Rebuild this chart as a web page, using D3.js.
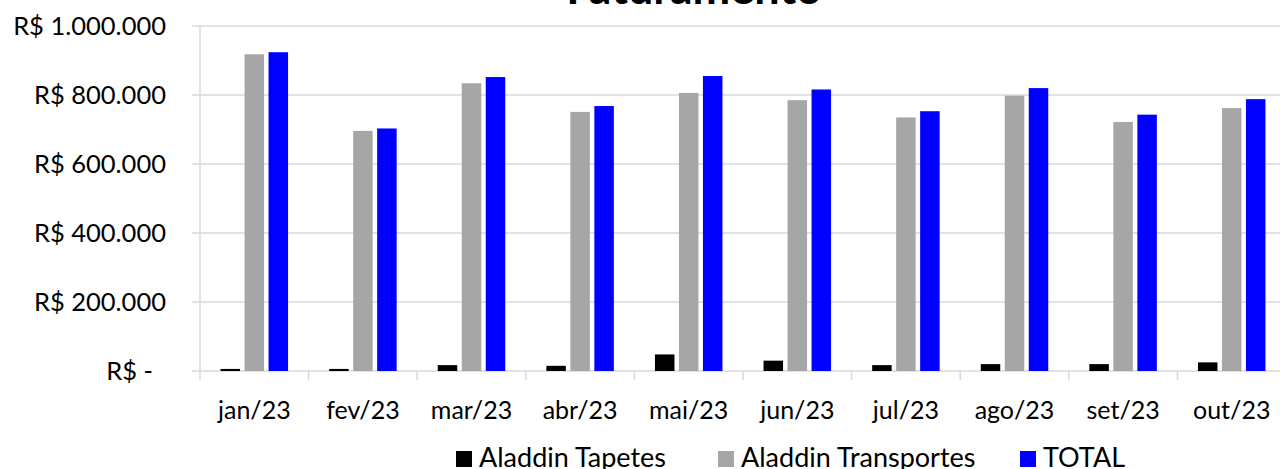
<!DOCTYPE html>
<html>
<head>
<meta charset="utf-8">
<script src="https://cdn.jsdelivr.net/npm/d3@7"></script>
<style>
  body { margin: 0; background: #fff; }
  svg { display: block; font-family: Lato, "Open Sans", sans-serif; }
</style>
</head>
<body>
<div id="chart"></div>
<script>
// months and revenue per company (R$)
const months = ["jan/23", "fev/23", "mar/23", "abr/23", "mai/23", "jun/23", "jul/23", "ago/23", "set/23", "out/23"];
const tapetes = [6000, 6000, 17000, 15000, 48000, 30000, 17000, 20000, 20000, 25000];
const transportes = [918000, 696000, 834000, 751000, 806000, 785000, 735000, 798000, 722000, 762000];
const total = [924000, 703000, 852000, 768000, 855000, 816000, 753000, 820000, 743000, 788000];
const yTicks = [0, 200000, 400000, 600000, 800000, 1000000];

const seriesNames = ["Aladdin Tapetes", "Aladdin Transportes", "TOTAL"];
const seriesColors = ["#000000", "#a6a6a6", "#0000ff"];
const seriesValues = [tapetes, transportes, total];

const W = 1280, H = 469;
const margin = { top: 26, right: -6, bottom: 98, left: 200 };

const svg = d3.select("#chart").append("svg")
    .attr("width", W)
    .attr("height", H);

const x = d3.scaleBand()
    .domain(months)
    .range([margin.left, W - margin.right]);

const y = d3.scaleLinear()
    .domain([0, 1000000])
    .range([H - margin.bottom, margin.top]);

// inner band for the three bars
const barW = 19.5, barGap = 4.5;
const x1 = d3.scaleBand()
    .domain(seriesNames)
    .range([0, 3 * barW + 2 * barGap])
    .paddingInner(barGap / (barW + barGap));

// gridlines + y tick marks
svg.append("g")
    .selectAll("line")
    .data(yTicks)
    .join("line")
    .attr("x1", margin.left - 8)
    .attr("x2", W)
    .attr("y1", d => y(d))
    .attr("y2", d => y(d))
    .attr("stroke", "#d9d9d9")
    .attr("stroke-width", 1.5);

// vertical axis line
svg.append("line")
    .attr("x1", margin.left).attr("x2", margin.left)
    .attr("y1", y(1000000)).attr("y2", y(0))
    .attr("stroke", "#d9d9d9").attr("stroke-width", 1.5);

// x tick marks at category boundaries
svg.append("g")
    .selectAll("line")
    .data(months)
    .join("line")
    .attr("x1", d => x(d))
    .attr("x2", d => x(d))
    .attr("y1", y(0))
    .attr("y2", y(0) + 9)
    .attr("stroke", "#d9d9d9")
    .attr("stroke-width", 1.5);

// y labels
const fmt = v => v === 0 ? "R$ -" : "R$ " + d3.format(",")(v).replace(/,/g, ".");
svg.append("g")
    .selectAll("text")
    .data(yTicks)
    .join("text")
    .attr("x", d => d === 0 ? 153 : 166)
    .attr("y", d => y(d))
    .attr("dy", "0.35em")
    .attr("text-anchor", "end")
    .attr("font-size", 25.5)
    .attr("fill", "#000")
    .text(fmt);

// bars
const groups = svg.append("g")
    .selectAll("g")
    .data(months)
    .join("g")
    .attr("transform", d => `translate(${x(d) + x.bandwidth() / 2 - x1.range()[1] / 2},0)`);

groups.selectAll("rect")
    .data((m, i) => seriesNames.map((s, k) => ({ s, v: seriesValues[k][i], c: seriesColors[k] })))
    .join("rect")
    .attr("x", d => x1(d.s))
    .attr("width", x1.bandwidth())
    .attr("y", d => y(d.v))
    .attr("height", d => y(0) - y(d.v))
    .attr("fill", d => d.c);

// x labels
svg.append("g")
    .selectAll("text")
    .data(months)
    .join("text")
    .attr("x", d => x(d) + x.bandwidth() / 2)
    .attr("y", 419)
    .attr("text-anchor", "middle")
    .attr("font-size", 25)
    .attr("fill", "#000")
    .text(d => d);

// title (clipped at top, as in the source)
svg.append("text")
    .attr("x", 694)
    .attr("y", 4)
    .attr("text-anchor", "middle")
    .attr("font-size", 45)
    .attr("font-weight", "bold")
    .attr("fill", "#000")
    .text("Faturamento");

// legend
const legendX = [456, 718, 1020];
const legend = svg.append("g")
    .selectAll("g")
    .data(seriesNames)
    .join("g")
    .attr("transform", (d, i) => `translate(${legendX[i]},451)`);

legend.append("rect")
    .attr("width", 16)
    .attr("height", 16)
    .attr("fill", (d, i) => seriesColors[i]);

legend.append("text")
    .attr("x", 23)
    .attr("y", 16)
    .attr("font-size", 27)
    .attr("fill", "#000")
    .text(d => d);
</script>
</body>
</html>
